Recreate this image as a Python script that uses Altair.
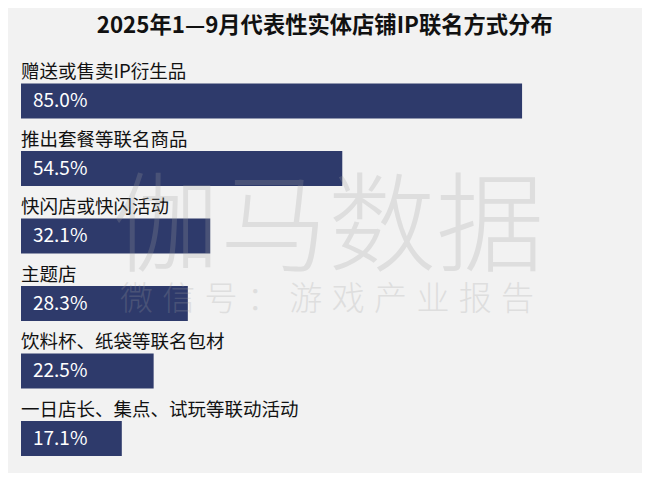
import altair as alt
import pandas as pd

categories = [
    "赠送或售卖IP衍生品",
    "推出套餐等联名商品",
    "快闪店或快闪活动",
    "主题店",
    "饮料杯、纸袋等联名包材",
    "一日店长、集点、试玩等联动活动",
]
values = [85.0, 54.5, 32.1, 28.3, 22.5, 17.1]
value_labels = ["85.0%", "54.5%", "32.1%", "28.3%", "22.5%", "17.1%"]
title_text = "2025年1—9月代表性实体店铺IP联名方式分布"
watermark_main = ["伽马数据"]
watermark_sub = ["\u200a ".join("微信号：游戏产业报告")]

FONT = "Noto Sans CJK SC"
BAR_COLOR = "#2e3a6b"

df = pd.DataFrame({"cat": categories, "value": values, "label": value_labels})

y_enc = alt.Y("cat:N", sort=categories, axis=None,
              scale=alt.Scale(paddingInner=0, paddingOuter=0))
x_scale = alt.Scale(domain=[0, 100], nice=False, zero=True)

base = alt.Chart(df)

bars = base.mark_bar(size=35, color=BAR_COLOR).encode(
    y=y_enc,
    x=alt.X("value:Q", scale=x_scale, axis=None),
)

cat_text = base.mark_text(
    align="left", baseline="middle", dy=-29, font=FONT, fontSize=18.5, color="#111111"
).encode(
    y=y_enc,
    x=alt.datum(0, scale=x_scale),
    text="cat:N",
)

val_text = base.mark_text(
    align="left", baseline="middle", dx=12, font=FONT, fontSize=19, color="#ffffff"
).encode(
    y=y_enc,
    x=alt.datum(0, scale=x_scale),
    text="label:N",
)

wm1 = alt.Chart(pd.DataFrame({"t": watermark_main})).mark_text(
    align="center", baseline="middle", font=FONT, fontSize=108, fontWeight=300,
    color="#a0a0a0", opacity=0.24,
).encode(x=alt.value(307), y=alt.value(164), text="t:N")

wm2 = alt.Chart(pd.DataFrame({"t": watermark_sub})).mark_text(
    align="center", baseline="middle", font=FONT, fontSize=33, fontWeight=300,
    color="#a0a0a0", opacity=0.24,
).encode(x=alt.value(306), y=alt.value(233), text="t:N")

chart = alt.layer(bars, cat_text, val_text, wm1, wm2).properties(
    width=589.5,
    height=405,
    background="#f2f2f2",
    padding={"left": 13, "top": 59.25, "right": 31.5, "bottom": 0.5},
    autosize=alt.AutoSizeParams(type="none"),
    title=alt.TitleParams(
        text=title_text, font=FONT, fontSize=22.3, fontWeight="bold", color="#111111",
        anchor="middle", dx=9, offset=26,
    ),
).configure_view(stroke=None)

chart.save("out.html", embed_options={"renderer": "svg", "actions": False})
